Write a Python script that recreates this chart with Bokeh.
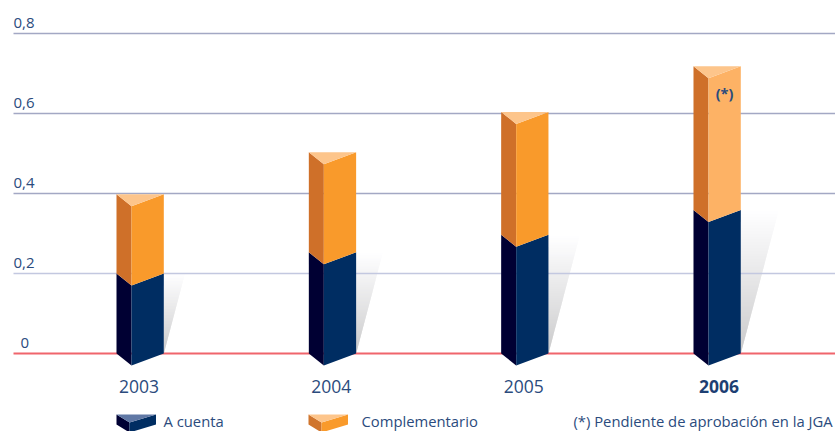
from bokeh.embed import file_html
from bokeh.resources import INLINE
from bokeh.plotting import figure
from bokeh.models import Range1d
from bokeh.core.properties import value

years = ["2003", "2004", "2005", "2006"]
a_cuenta = [0.200, 0.253, 0.297, 0.359]
complementario = [0.198, 0.250, 0.307, 0.359]
grid_values = [0.8, 0.6, 0.4, 0.2]
tick_labels = ["0,8", "0,6", "0,4", "0,2"]
legend_labels = ["A cuenta", "Complementario", "(*) Pendiente de aprobación en la JGA"]
pending_note = "(*)"

W, H = 835, 431
PX_PER_VALUE = 400.0
ZERO_PX = 353.0
STEP = 192.33
LEFT0 = 116.0
TXT = "#2b4b7d"
FONT = "Open Sans"

def Y(px):
    return (ZERO_PX - px) / PX_PER_VALUE

def X(px):
    return (px - LEFT0) / STEP

p = figure(width=W, height=H, output_backend="svg", toolbar_location=None,
           x_range=Range1d(X(0), X(W)), y_range=Range1d(Y(H), Y(0)),
           min_border=0, min_border_left=0, min_border_right=0, min_border_top=0, min_border_bottom=0)
p.axis.visible = False
p.grid.visible = False
p.outline_line_color = None
p.background_fill_color = "white"
p.border_fill_color = "white"

DX_SIDE = 15 / STEP
DX_BAR = 47.3 / STEP
DY_FRONT = 12 / PX_PER_VALUE
SHADOW = 0.265 / STEP * PX_PER_VALUE  # x run per unit value

# shadows, drawn first so the rules run over them
for i, v in enumerate(a_cuenta):
    r = i + DX_BAR
    n = max(int(v * PX_PER_VALUE), 1)
    xs, ys, cols = [], [], []
    for k in range(n):
        v0 = v * k / n
        v1 = v * min(k + 1.6, n) / n
        t = k / n
        g = int(round(200 + (255 - 200) * t ** 0.9))
        xs.append([r, r + v0 * SHADOW, r + v1 * SHADOW, r])
        ys.append([v0, v0, v1, v1])
        cols.append(f"#{g:02x}{g:02x}{min(g+1,255):02x}")
    p.patches(xs, ys, fill_color=cols, line_color=None)

# rules
x0, x1 = X(13), X(835)
for gv in grid_values:
    color = "#c3c8e0" if gv == 0.2 else "#a3a8c4"
    p.line([x0, x1], [gv, gv], line_color=color, line_width=1.3)
p.line([x0, x1], [0, 0], line_color="#f0656c", line_width=2)

# bars
def prism(i, low, high, side, front):
    l, m, r = i, i + DX_SIDE, i + DX_BAR
    p.patch([l, m, m, l], [low, low - DY_FRONT, high - DY_FRONT, high], fill_color=side, line_color=None)
    p.patch([m, r, r, m], [low - DY_FRONT, low, high, high - DY_FRONT], fill_color=front, line_color=None)

for i, (a, c) in enumerate(zip(a_cuenta, complementario)):
    prism(i, 0, a, "#000033", "#002d62")
    front = "#fdb265" if i == 3 else "#f99a2b"
    prism(i, a, a + c, "#cf7029", front)
    t = a + c
    p.patch([i, i + DX_SIDE, i + DX_BAR], [t, t - DY_FRONT, t], fill_color="#fdc58b", line_color=None)

# value labels
for gv, lab in zip(grid_values, tick_labels):
    p.text([X(13)], [gv + 11 / PX_PER_VALUE], text=[lab], text_font=value(FONT), text_font_size="15px",
           text_color=TXT, text_align="left", text_baseline="middle")
p.text([X(20)], [11 / PX_PER_VALUE], text=["0"], text_font=value(FONT), text_font_size="15px",
       text_color=TXT, text_align="left", text_baseline="middle")

# years
for i, y in enumerate(years):
    shift = 25.5 if i == 3 else 22.5
    p.text([i + shift / STEP], [Y(385.5)], text=[y], text_font=value(FONT), text_font_size="17.5px",
           text_color="#1d3f73" if i == 3 else TXT, text_font_style="bold" if i == 3 else "normal",
           text_align="center", text_baseline="middle")

# note inside the pending bar
p.text([3 + 31 / STEP], [Y(93)], text=[pending_note], text_font=value(FONT), text_font_size="14.5px",
       text_color=TXT, text_font_style="bold", text_align="center", text_baseline="middle")

# legend
def swatch(left, top, side, front, lid):
    a, b, c = X(left), X(left + 13), X(left + 39.5)
    t, m, e = Y(top), Y(top + 8), Y(top + 18)
    q = Y(top + 10)
    p.patch([a, b, b, a], [t, m, e, q], fill_color=side, line_color=None)
    p.patch([b, c, c, b], [m, t, q, e], fill_color=front, line_color=None)
    p.patch([a, b, c], [t, m, t], fill_color=lid, line_color=None)

swatch(116, 414, "#000033", "#002d62", "#6078a5")
swatch(308, 414, "#d0752d", "#f99a2b", "#fdc58b")
for xpx, lab in zip([163, 361, 573], legend_labels):
    p.text([X(xpx)], [Y(420.5)], text=[lab], text_font=value("Open Sans"), text_font_size="14.8px",
           text_color=TXT, text_align="left", text_baseline="middle")

open("out.html", "w").write(file_html(p, INLINE))
